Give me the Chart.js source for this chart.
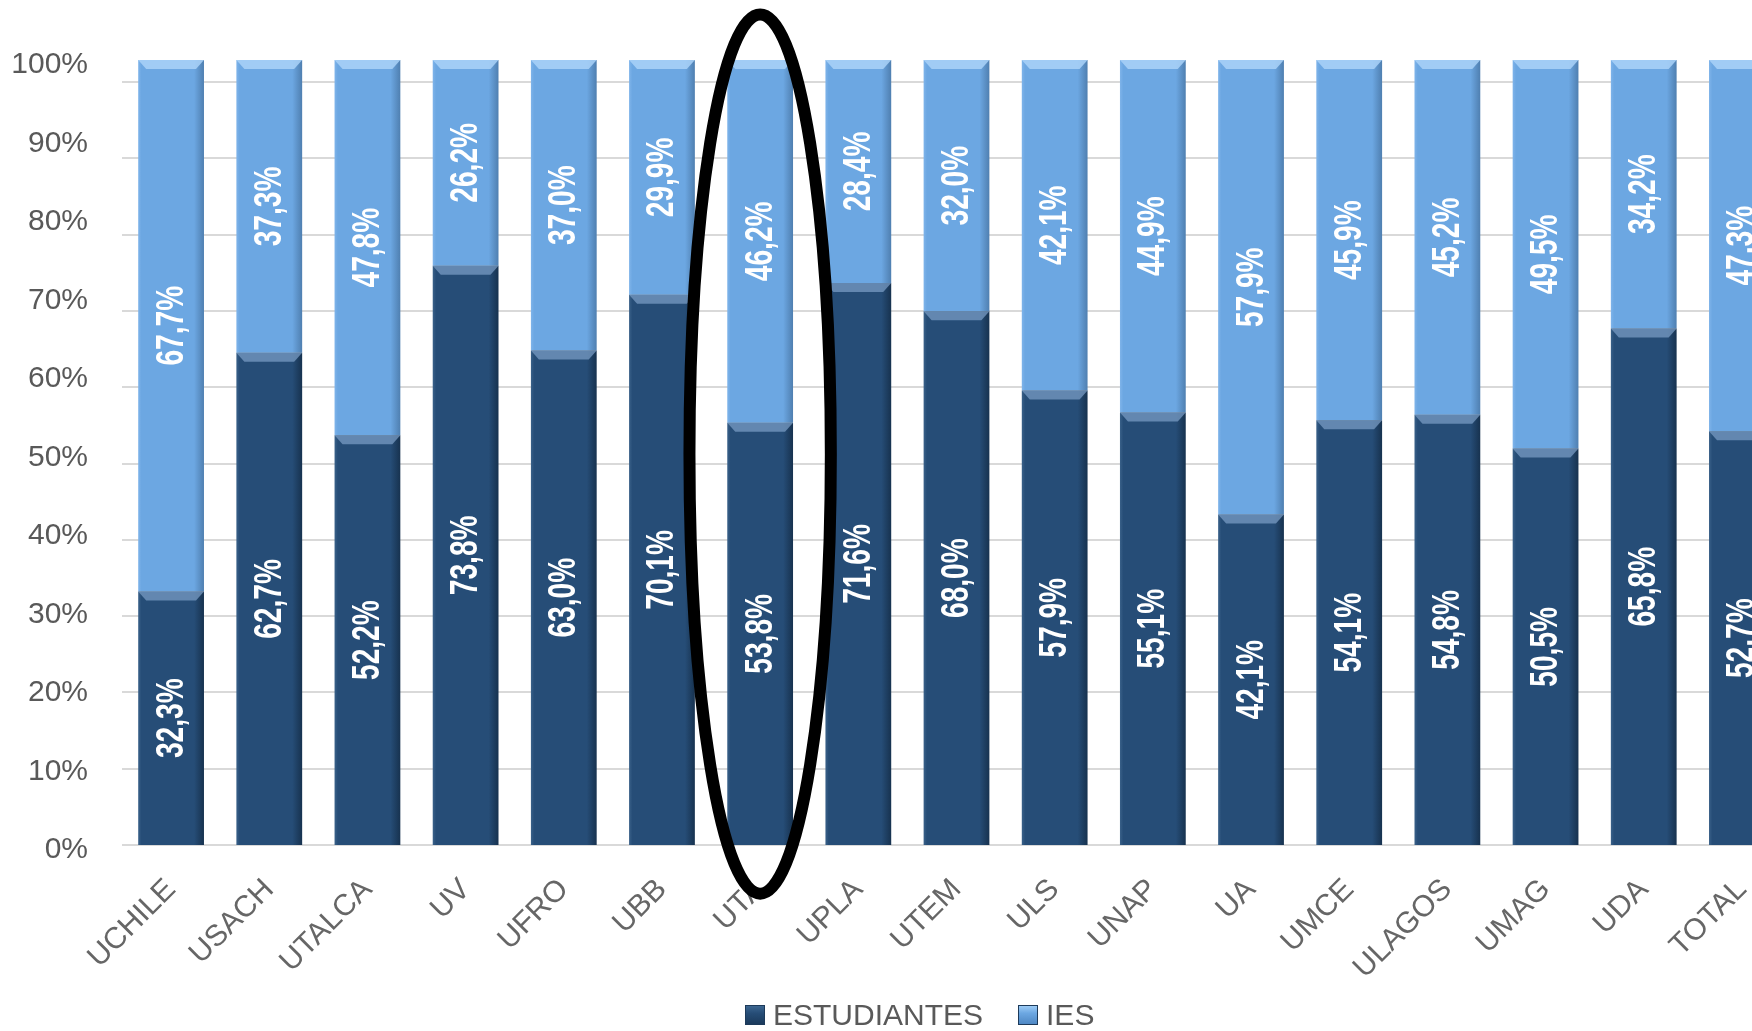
<!DOCTYPE html>
<html>
<head>
<meta charset="utf-8">
<script src="https://cdn.jsdelivr.net/npm/chart.js@4/dist/chart.umd.min.js"></script>
<style>
    html, body { margin: 0; padding: 0; background: #ffffff; overflow: hidden; }
    #wrap { position: absolute; left: 0; top: 0; width: 1834px; height: 1031px; }
    #legend {
        position: absolute; left: 745px; top: 999px; height: 32px;
        display: flex; align-items: center;
        font-family: 'Liberation Sans', Arial, sans-serif; font-size: 30px; line-height: 32px; color: #595959;
    }
    #legend .item { display: flex; align-items: center; margin-right: 35px; }
    #legend .box { width: 20px; height: 20px; margin-right: 8px; box-sizing: border-box; border: 1px solid #1d3a5a; }
</style>
</head>
<body>
<div id="wrap"><canvas id="chart"></canvas></div>
<div id="legend"></div>
<script>
const categories = ['UCHILE', 'USACH', 'UTALCA', 'UV', 'UFRO', 'UBB', 'UTA', 'UPLA', 'UTEM',
    'ULS', 'UNAP', 'UA', 'UMCE', 'ULAGOS', 'UMAG', 'UDA', 'TOTAL'];
const estudiantes = [32.3, 62.7, 52.2, 73.8, 63.0, 70.1, 53.8, 71.6, 68.0, 57.9, 55.1, 42.1, 54.1, 54.8, 50.5, 65.8, 52.7];
const ies = [67.7, 37.3, 47.8, 26.2, 37.0, 29.9, 46.2, 28.4, 32.0, 42.1, 44.9, 57.9, 45.9, 45.2, 49.5, 34.2, 47.3];
const yTicks = [0, 10, 20, 30, 40, 50, 60, 70, 80, 90, 100];
const highlighted = 'UTA';

const darkBlue = '#264d77';
const lightBlue = '#6ca7e2';
const barPct = 0.67;

Chart.defaults.font.family = "'Liberation Sans', Arial, sans-serif";

// shaded fill so the bars look a bit like the original bevelled ones
function barFill(base, edgeLight, edgeDark) {
    return function(context) {
        const chart = context.chart;
        if (!chart.chartArea || context.type !== 'data') return base;
        const xScale = chart.scales.x;
        const cx = xScale.getPixelForValue(context.dataIndex);
        const half = (xScale.width / categories.length) * barPct / 2;
        const g = chart.ctx.createLinearGradient(cx - half, 0, cx + half, 0);
        g.addColorStop(0, edgeLight);
        g.addColorStop(0.05, base);
        g.addColorStop(0.85, base);
        g.addColorStop(1, edgeDark);
        return g;
    };
}

const bevelPlugin = {
    id: 'bevel',
    afterDatasetsDraw(chart) {
        const ctx = chart.ctx;
        const tops = ['rgba(120,155,195,0.75)', 'rgba(170,210,248,0.85)'];
        chart.data.datasets.forEach(function(ds, di) {
            chart.getDatasetMeta(di).data.forEach(function(bar) {
                const top = Math.min(bar.y, bar.base);
                const l = bar.x - bar.width / 2, r = bar.x + bar.width / 2;
                ctx.save();
                ctx.fillStyle = tops[di];
                ctx.beginPath();
                ctx.moveTo(l, top);
                ctx.lineTo(r, top);
                ctx.lineTo(r - 8, top + 9);
                ctx.lineTo(l + 8, top + 9);
                ctx.closePath();
                ctx.fill();
                ctx.restore();
            });
        });
    }
};

const valueLabelPlugin = {
    id: 'valueLabels',
    afterDatasetsDraw(chart) {
        const ctx = chart.ctx;
        chart.data.datasets.forEach(function(ds, di) {
            chart.getDatasetMeta(di).data.forEach(function(bar, i) {
                const text = ds.data[i].toFixed(1).replace('.', ',') + '%';
                ctx.save();
                ctx.translate(bar.x, (bar.y + bar.base) / 2);
                ctx.rotate(-Math.PI / 2);
                ctx.scale(0.74, 1);
                ctx.font = "bold 38px 'Liberation Sans', Arial, sans-serif";
                ctx.fillStyle = '#ffffff';
                ctx.textAlign = 'center';
                ctx.textBaseline = 'middle';
                ctx.fillText(text, 0, 1);
                ctx.restore();
            });
        });
    }
};

const ellipsePlugin = {
    id: 'ellipse',
    afterDraw(chart) {
        const xScale = chart.scales.x, yScale = chart.scales.y;
        const idx = categories.indexOf(highlighted);
        const cx = xScale.getPixelForValue(idx);
        const step = xScale.getPixelForValue(1) - xScale.getPixelForValue(0);
        const cy = yScale.getPixelForValue(49.8);
        const ry = Math.abs(yScale.getPixelForValue(105.8) - cy);
        const ctx = chart.ctx;
        ctx.save();
        ctx.strokeStyle = '#000000';
        ctx.lineWidth = 12;
        ctx.beginPath();
        ctx.ellipse(cx, cy, step * 0.72, ry, 0, 0, Math.PI * 2);
        ctx.stroke();
        ctx.restore();
    }
};

const chart = new Chart(document.getElementById('chart'), {
    type: 'bar',
    data: {
        labels: categories,
        datasets: [{
            label: 'ESTUDIANTES',
            data: estudiantes,
            backgroundColor: barFill(darkBlue, '#3a6189', '#17324f'),
            barPercentage: barPct,
            categoryPercentage: 1
        }, {
            label: 'IES',
            data: ies,
            backgroundColor: barFill(lightBlue, '#7fb4ea', '#4f7fb0'),
            barPercentage: barPct,
            categoryPercentage: 1
        }]
    },
    options: {
        responsive: true,
        maintainAspectRatio: false,
        animation: false,
        layout: { padding: { left: 0, right: 43, top: 60, bottom: 0 } },
        plugins: {
            legend: { display: false },
            tooltip: { enabled: false }
        },
        scales: {
            x: {
                stacked: true,
                grid: { display: false },
                border: { display: false },
                ticks: {
                    color: '#666666',
                    font: { size: 30 },
                    minRotation: 45,
                    maxRotation: 45,
                    padding: 19
                },
                afterFit: function(scale) { scale.height = 186; }
            },
            y: {
                stacked: true,
                min: 0,
                max: 100,
                grid: { display: false, drawTicks: false },
                border: { display: false },
                afterBuildTicks: function(scale) {
                    scale.ticks = yTicks.map(function(v) { return { value: v }; });
                },
                ticks: {
                    color: '#595959',
                    font: { size: 30 },
                    padding: 34,
                    labelOffset: 5,
                    callback: function(v) { return v + '%'; }
                },
                afterFit: function(scale) { scale.width = 122; }
            },
            // gridlines of the original sit on a slightly tighter spacing than the bars
            grid2: {
                position: 'right',
                min: 0,
                max: 102.9,
                afterBuildTicks: function(scale) {
                    scale.ticks = yTicks.map(function(v) { return { value: v }; });
                },
                grid: { color: '#d9d9d9', lineWidth: 2, drawTicks: false },
                border: { display: false },
                ticks: { display: false },
                afterFit: function(scale) { scale.width = 0; }
            }
        }
    },
    plugins: [bevelPlugin, valueLabelPlugin, ellipsePlugin]
});

// legend built from the chart's own datasets
const legendBoxColors = [
    'linear-gradient(#3d6690, #264d77 40%, #1b3a5c)',
    'linear-gradient(#9ccbf5, #6ca7e2 40%, #4f88c4)'
];
const legendEl = document.getElementById('legend');
chart.data.datasets.forEach(function(ds, i) {
    const item = document.createElement('div');
    item.className = 'item';
    const box = document.createElement('span');
    box.className = 'box';
    box.style.background = legendBoxColors[i];
    const label = document.createElement('span');
    label.textContent = ds.label;
    item.appendChild(box);
    item.appendChild(label);
    legendEl.appendChild(item);
});
</script>
</body>
</html>
